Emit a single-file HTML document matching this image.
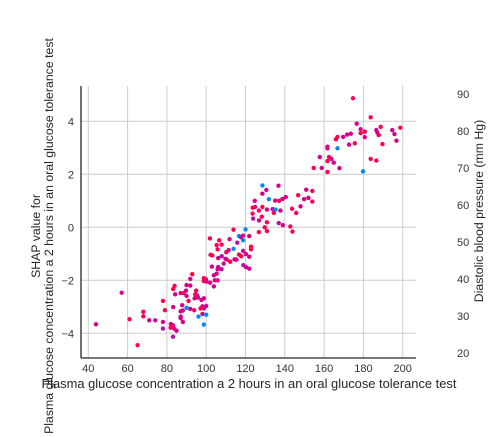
<!DOCTYPE html>
<html><head><meta charset="utf-8"><style>
body{margin:0;background:#fff;}
svg{display:block;font-family:"Liberation Sans",sans-serif;}
</style></head><body>
<svg id="chart" width="499" height="437" viewBox="0 0 499 437" xmlns="http://www.w3.org/2000/svg">
<g id="grid"></g>
<g id="pts"></g>
<line x1="81" y1="86" x2="81" y2="358" stroke="#262626" stroke-width="1.3"/>
<line x1="81" y1="358" x2="416" y2="358" stroke="#262626" stroke-width="1.3"/>
<g id="ticks" font-size="11" fill="#333"></g>
<text x="249" y="388" font-size="12.9" fill="#262626" text-anchor="middle">Plasma glucose concentration a 2 hours in an oral glucose tolerance test</text>
<text transform="translate(40,236) rotate(-90)" font-size="12.3" fill="#262626" text-anchor="middle">SHAP value for</text>
<text transform="translate(53,236) rotate(-90)" font-size="12.3" fill="#262626" text-anchor="middle">Plasma glucose concentration a 2 hours in an oral glucose tolerance test</text>
<text transform="translate(483,211) rotate(-90)" font-size="12.3" fill="#262626" text-anchor="middle">Diastolic blood pressure (mm Hg)</text>
</svg>
<script>
const xTicks=[40,60,80,100,120,140,160,180,200];
const yTicks=[-4,-2,0,2,4];
const cbTicks=[20,30,40,50,60,70,80,90];
const glucose=[174.7,183.7,176.6,188.8,178.6,180.7,178.6,180.7,186.6,187.1,187.8,194.7,195.8,198.8,196.8,189.7,183.7,186.6,179.8,173.6,171.7,169.7,166.8,166.0,175.6,172.7,166.8,161.7,161.7,157.8,162.5,163.7,161.7,164.9,154.7,158.8,161.7,167.8,128.6,136.8,130.6,128.6,131.9,135.1,137.1,138.8,140.5,146.8,150.9,154.0,152.0,149.8,154.0,148.0,143.7,145.8,124.7,124.9,123.7,126.8,130.9,133.8,135.3,137.8,134.4,123.6,128.6,123.9,126.9,128.3,130.9,136.9,139.0,142.8,129.8,143.9,130.9,126.8,113.9,120.0,116.7,117.8,118.8,121.9,118.8,111.9,115.8,113.9,118.8,120.2,121.9,116.7,117.8,115.4,114.4,118.9,120.2,121.9,122.8,122.8,101.9,106.6,107.8,105.3,105.8,110.2,111.4,107.9,110.5,109.8,112.2,115.1,102.2,103.1,106.1,106.1,105.8,107.8,108.9,102.9,105.3,103.9,104.4,105.8,102.0,98.8,99.8,98.8,100.2,103.9,92.9,91.9,90.0,91.9,83.9,83.2,84.2,87.0,88.6,89.7,90.0,91.0,94.9,94.4,95.4,95.8,94.1,97.6,98.8,98.1,100.0,98.8,97.1,93.9,91.9,90.0,87.8,83.2,88.1,87.0,87.0,87.0,88.1,96.1,98.1,100.0,98.8,78.0,79.0,78.0,78.0,74.1,71.0,68.0,68.0,61.0,57.0,43.9,65.1,82.0,83.1,83.7,84.9,81.9,83.1];
const shap=[4.87,4.15,3.91,3.79,3.70,3.61,3.55,3.40,3.67,3.57,3.48,3.67,3.52,3.76,3.27,3.14,2.58,2.52,2.11,3.53,3.50,3.41,3.41,3.32,3.17,3.12,2.98,3.04,2.98,2.65,2.65,2.58,2.50,2.44,2.24,2.24,2.09,2.23,1.58,1.57,1.41,1.27,1.06,1.01,1.00,1.07,1.14,1.21,1.42,1.37,1.11,1.06,0.97,0.79,0.70,0.54,1.00,0.77,0.74,0.63,0.67,0.69,0.67,0.63,0.54,0.52,0.77,0.33,0.26,0.40,0.19,0.16,0.08,0.03,0.00,-0.16,-0.14,-0.18,-0.09,-0.08,-0.33,-0.38,-0.31,-0.33,-0.49,-0.45,-0.58,-0.81,-0.89,-1.01,-1.11,-1.03,-1.09,-1.22,-1.21,-1.43,-1.50,-1.56,-0.73,-0.83,-0.42,-0.49,-0.65,-0.67,-0.83,-0.94,-0.86,-1.09,-1.22,-1.19,-1.30,-1.22,-1.04,-1.06,-1.16,-1.50,-1.58,-1.58,-1.37,-1.48,-1.75,-1.81,-2.00,-2.00,-2.09,-1.92,-1.96,-2.03,-2.05,-2.23,-1.77,-1.95,-2.18,-2.20,-2.21,-2.33,-2.53,-2.48,-2.48,-2.39,-2.59,-2.78,-2.39,-2.53,-2.57,-2.65,-2.68,-2.74,-2.68,-2.98,-2.97,-3.06,-3.06,-3.13,-3.08,-3.04,-2.94,-3.01,-3.14,-3.17,-3.37,-3.43,-3.57,-3.37,-3.27,-3.30,-3.67,-2.78,-3.13,-3.57,-3.82,-3.51,-3.51,-3.19,-3.36,-3.47,-2.47,-3.66,-4.45,-3.65,-3.70,-3.82,-3.90,-3.79,-4.13];
const bp=[80,80,70,80,70,80,80,70,70,70,80,70,70,80,70,80,80,80,30,70,70,70,80,80,80,70,30,70,70,70,80,70,80,70,80,70,80,70,30,70,70,70,30,70,80,70,70,80,70,80,70,70,80,70,80,80,70,70,80,80,70,60,30,70,80,80,80,60,70,80,80,70,70,80,80,80,80,80,80,30,30,70,70,70,30,70,60,30,60,70,70,80,80,70,70,60,70,70,80,80,80,80,80,80,80,80,70,60,80,70,80,70,80,80,70,70,70,60,60,70,70,70,70,70,70,80,80,80,70,70,80,70,70,70,80,80,70,70,80,70,70,80,80,80,70,70,70,70,70,70,70,60,80,80,70,30,70,70,70,70,70,70,70,30,70,30,30,80,80,70,60,60,70,80,80,80,70,70,80,70,70,70,70,80,60];
const NS='http://www.w3.org/2000/svg';
const X0=81,X1=416,Y0=86,Y1=358;
function xs(v){return 88.3+(v-40)*1.965;}
function ys(v){return 227.3-v*26.5;}
function cb(v){return 353-(v-20)*(259/70);}
function col(v){
  const t=Math.max(0,Math.min(1,(v-30)/50));
  const stops=[[0,[0,139,251]],[0.5,[168,26,174]],[0.8,[214,0,138]],[1,[255,0,82]]];
  for(let i=1;i<stops.length;i++){if(t<=stops[i][0]){const a=stops[i-1],b=stops[i];const f=(t-a[0])/(b[0]-a[0]);const c=a[1].map((q,k)=>Math.round(q+(b[1][k]-q)*f));return 'rgb('+c.join(',')+')';}}
  return 'rgb(255,0,82)';
}
const grid=document.getElementById('grid'),ticks=document.getElementById('ticks'),pts=document.getElementById('pts');
xTicks.forEach(v=>{
  const l=document.createElementNS(NS,'line');
  
  
  l.setAttribute('x1',xs(v));l.setAttribute('x2',xs(v));l.setAttribute('y1',Y0);l.setAttribute('y2',Y1);
  l.setAttribute('stroke','#cccccc');l.setAttribute('stroke-width','1');grid.appendChild(l);
  const t=document.createElementNS(NS,'text');
  
  
  t.setAttribute('x',xs(v));t.setAttribute('y',372);t.setAttribute('text-anchor','middle');t.textContent=v;ticks.appendChild(t);
});
yTicks.forEach(v=>{
  const l=document.createElementNS(NS,'line');
  
  
  l.setAttribute('x1',X0);l.setAttribute('x2',X1);l.setAttribute('y1',ys(v));l.setAttribute('y2',ys(v));
  l.setAttribute('stroke','#cccccc');l.setAttribute('stroke-width','1');grid.appendChild(l);
  const t=document.createElementNS(NS,'text');
  
  
  t.setAttribute('x',74);t.setAttribute('y',ys(v)+4);t.setAttribute('text-anchor','end');t.textContent=(v<0?'\u2212'+(-v):v);ticks.appendChild(t);
});
cbTicks.forEach(v=>{
  const t=document.createElementNS(NS,'text');
  
  
  t.setAttribute('x',457);t.setAttribute('y',cb(v)+4);t.textContent=v;ticks.appendChild(t);
});
glucose.forEach((g,i)=>{
  const c=document.createElementNS(NS,'circle');
  
  
  c.setAttribute('cx',xs(g));c.setAttribute('cy',ys(shap[i]));c.setAttribute('r',2.2);c.setAttribute('fill',col(bp[i]));
  pts.appendChild(c);
});
</script>
</body></html>
